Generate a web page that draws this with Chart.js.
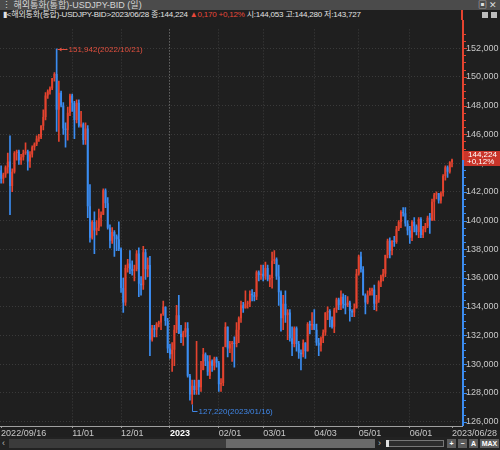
<!DOCTYPE html>
<html>
<head>
<meta charset="utf-8">
<script src="https://cdn.jsdelivr.net/npm/chart.js@4.4.0/dist/chart.umd.min.js"></script>
<style>
  body { margin: 0; background: #1f1f1f; width: 500px; height: 450px; overflow: hidden;
         font-family: 'Liberation Sans Narrow', 'Liberation Sans', 'Noto Sans CJK KR', sans-serif; }
  #title { position: relative; height: 10px; background: #4b4b4b; color: #d6d6d6; font-size: 9px; line-height: 10px; padding-left: 2px; white-space: nowrap; }
  #info { position: relative; height: 10px; color: #e2e2e2; font-size: 8px; line-height: 10px; padding-left: 3px; white-space: nowrap; letter-spacing: -0.2px; }
  #info .up { color: #e8483a; }
  #wrap { width: 500px; height: 417px; }
  #wrap canvas { display: block; }
  #bottom { position: relative; height: 13px; background: #222222; color: #bbb; font-size: 9px; }
  #bottom div { position: absolute; }
  .btn { top: 2px; height: 9px; background: #5c5c5c; color: #fff; font-size: 7px; font-weight: bold; line-height: 9px; text-align: center; }
</style>
</head>
<body>
<div id="title">⋮ 해외통화(통합)-USDJPY-BID (일)
  <span style="position:absolute;left:478px;top:0;color:#ddd">▣</span>
  <span style="position:absolute;left:489px;top:0;color:#ddd">✕</span>
</div>
<div id="info">▮&lt;해외통화(통합)-USDJPY-BID&gt;2023/06/28 종:144,224 <span class="up">▲0,170 +0,12%</span> 시:144,053 고:144,280 저:143,727
  <span style="position:absolute;left:461px;top:0;width:2px;height:10px;background:#e4432f"></span>
  <span style="position:absolute;left:482px;top:2px;width:6px;height:6px;background:#bdbdbd"></span>
  <span style="position:absolute;left:491px;top:2px;width:6px;height:6px;background:#bdbdbd"></span>
</div>
<div id="wrap"><canvas id="chart" width="500" height="417"></canvas></div>
<div id="bottom">
  <div style="left:2px;top:0;line-height:13px">‹</div>
  <div style="left:9px;top:2px;width:366px;height:9px;background:#3b3b3b"></div>
  <div style="left:226px;top:2px;width:149px;height:9px;background:#6a6a6a"></div>
  <div style="left:378px;top:0;line-height:13px">›</div>
  <div style="left:386px;top:3px;width:56px;height:5px;border:1px solid #777;background:#2c2c2c"></div>
  <div style="left:386px;top:3px;width:3px;height:7px;background:#e0e0e0"></div>
  <div class="btn" style="left:447px;width:9px">+</div>
  <div class="btn" style="left:458px;width:9px">−</div>
  <div class="btn" style="left:469px;width:9px">A</div>
  <div class="btn" style="left:480px;width:19px">MAX</div>
</div>
<script>
// daily USD/JPY candles, 2022/09/16 .. 2023/06/28 (one row per month)
const opens = [
  143.5,142.9,143.2,143.7,144.1,142.4,143.4,144.7,144.8,144.2,144.4,
  144.7,144.8,144.1,144.6,145.1,145.3,145.7,145.8,146.6,147.2,148.7,149.0,149.2,149.9,150.2,147.7,148.9,148.0,146.4,146.3,147.5,
  148.7,148.2,147.0,148.2,146.6,146.7,145.6,146.4,141.0,138.8,139.9,139.3,139.5,140.2,140.4,142.1,141.2,139.5,138.6,139.2,138.9,138.7,
  138.0,135.3,134.3,136.7,137.0,136.6,136.5,136.6,137.7,135.6,135.5,137.8,136.6,136.9,131.7,132.5,132.4,132.8,132.9,133.5,134.0,133.0,
  131.1,130.7,131.0,132.4,133.4,132.1,131.9,132.2,132.5,129.2,127.9,128.5,128.2,128.9,128.4,129.6,130.7,130.2,129.2,130.2,129.9,130.4,
  130.1,128.6,128.7,131.2,132.6,131.1,131.4,131.5,131.4,132.4,133.2,134.1,133.9,134.2,134.3,134.9,134.8,134.7,136.4,136.2,
  136.3,136.1,136.7,135.9,136.0,137.2,137.3,136.1,135.0,133.2,134.2,133.4,133.6,131.8,131.4,132.5,131.4,130.8,130.7,131.5,130.9,132.8,132.7,
  132.8,132.4,131.5,131.3,131.8,132.2,133.6,133.7,133.1,132.6,133.8,134.5,134.1,134.7,134.2,134.1,134.3,133.7,133.6,133.9,
  136.3,137.5,136.6,134.8,134.3,134.8,135.1,135.2,134.2,134.5,135.7,136.1,136.3,137.6,138.6,137.9,138.6,138.5,139.4,139.9,140.6,140.5,139.8,
  139.3,138.8,139.9,139.6,139.2,140.1,139.0,139.4,139.6,140.2,140.0,141.3,141.8,141.9,141.4,141.9,143.1,143.7,143.4,144.053
];
const highs = [
  143.8,143.3,143.8,144.7,145.9,143.6,144.8,144.9,144.9,144.6,144.9,
  145.4,144.9,144.8,145.2,145.4,145.9,146.0,146.6,147.7,148.9,149.1,149.3,149.9,150.3,151.942,149.7,149.0,148.2,146.8,147.9,148.8,
  148.8,148.3,148.4,148.4,147.6,146.8,146.8,146.6,142.5,140.0,140.6,140.0,140.8,140.6,142.2,142.2,141.6,139.7,139.5,139.3,139.0,139.9,
  138.1,136.0,136.9,137.3,137.9,137.2,136.9,137.9,138.1,136.1,138.2,138.0,137.4,137.5,132.7,132.7,132.9,133.0,133.5,134.4,134.0,133.2,
  131.4,131.5,132.7,134.1,134.8,132.7,132.3,132.9,132.9,129.3,128.9,128.9,131.6,128.9,130.2,131.1,130.8,130.6,130.6,130.3,130.5,130.5,
  130.2,129.0,131.2,132.9,132.6,131.6,131.6,131.9,132.9,133.3,134.4,134.3,135.1,134.4,135.1,135.2,135.0,136.5,136.5,136.9,
  136.9,137.1,136.9,136.2,137.8,137.9,137.4,136.9,135.1,134.8,135.1,133.8,133.8,132.6,132.6,132.6,131.6,131.0,131.7,131.5,132.9,133.0,133.6,
  133.8,132.8,131.8,131.9,132.4,133.6,134.0,133.8,133.3,133.9,134.6,134.6,135.1,134.9,134.8,134.7,134.4,133.8,134.2,136.6,
  137.6,137.8,136.8,134.9,135.1,135.3,135.3,135.5,134.8,135.8,136.2,136.6,137.6,138.7,138.8,138.6,138.9,139.6,140.0,140.7,140.9,140.9,140.0,
  139.6,140.0,140.2,139.7,140.2,140.2,139.6,139.8,140.3,140.5,141.5,141.9,142.0,141.9,142.0,143.2,143.8,143.8,144.1,144.28
];
const lows = [
  142.6,142.6,143.0,143.3,140.4,142.0,143.3,144.2,143.9,143.9,144.2,
  144.6,143.5,143.7,144.4,144.9,145.2,145.5,145.7,146.3,147.0,148.5,148.8,149.1,149.7,146.2,145.5,147.9,146.0,145.1,145.6,147.3,
  147.6,145.7,146.8,146.5,146.5,145.3,145.3,140.2,138.5,138.7,137.7,139.0,139.3,139.6,140.4,140.9,139.4,138.1,138.4,137.5,137.9,137.9,
  135.0,133.6,134.1,136.4,136.3,136.2,135.8,136.5,134.7,134.8,135.2,135.9,136.1,130.6,131.6,131.9,131.9,132.6,132.4,133.4,132.7,130.8,
  130.4,129.5,129.9,132.2,132.2,131.5,131.3,131.9,129.1,127.5,127.22,127.9,127.9,127.9,128.1,129.6,129.9,129.5,129.0,129.5,129.6,129.8,
  128.1,128.1,128.5,131.2,130.5,130.8,130.2,129.8,131.2,131.5,132.9,133.6,133.9,133.9,134.0,134.4,134.4,134.5,135.8,135.9,
  135.8,135.9,135.8,135.4,135.3,137.0,135.9,134.1,132.3,132.4,132.9,131.7,131.6,130.6,131.2,130.9,130.4,129.6,130.5,130.4,130.9,132.1,132.4,
  132.4,131.3,130.6,130.9,131.5,132.0,133.1,132.6,132.5,132.2,133.6,133.8,133.8,133.9,133.5,134.0,133.0,133.3,133.3,133.9,
  136.2,136.4,134.8,133.5,134.2,134.8,134.8,133.8,133.7,134.3,135.4,135.8,136.1,137.4,137.4,137.6,138.2,138.4,139.3,139.5,140.3,139.6,139.0,
  138.4,138.6,139.2,139.0,138.8,138.8,138.8,139.2,139.5,139.1,140.0,140.0,141.5,141.2,141.2,141.7,142.8,143.0,143.3,143.727
];
const closes = [
  142.9,143.2,143.7,144.1,142.4,143.4,144.7,144.8,144.2,144.4,144.7,
  144.8,144.1,144.6,145.1,145.3,145.7,145.8,146.6,147.2,148.7,149.0,149.2,149.9,150.2,147.7,148.9,148.0,146.4,146.3,147.5,148.7,
  148.2,147.0,148.2,146.6,146.7,145.6,146.4,141.0,138.8,139.9,139.3,139.5,140.2,140.4,142.1,141.2,139.5,138.6,139.2,138.9,138.7,138.0,
  135.3,134.3,136.7,137.0,136.6,136.5,136.6,137.7,135.6,135.5,137.8,136.6,136.9,131.7,132.5,132.4,132.8,132.9,133.5,134.0,133.0,131.1,
  130.7,131.0,132.4,133.4,132.1,131.9,132.2,132.5,129.2,127.9,128.5,128.2,128.9,128.4,129.6,130.7,130.2,129.2,130.2,129.9,130.4,130.1,
  128.6,128.7,131.2,132.6,131.1,131.4,131.5,131.4,132.4,133.2,134.1,133.9,134.2,134.3,134.9,134.8,134.7,136.4,136.2,136.3,
  136.1,136.7,135.9,136.0,137.2,137.3,136.1,135.0,133.2,134.2,133.4,133.6,131.8,131.4,132.5,131.4,130.8,130.7,131.5,130.9,132.8,132.7,132.8,
  132.4,131.5,131.3,131.8,132.2,133.6,133.7,133.1,132.6,133.8,134.5,134.1,134.7,134.2,134.1,134.3,133.7,133.6,133.9,136.3,
  137.5,136.6,134.8,134.3,134.8,135.1,135.2,134.2,134.5,135.7,136.1,136.3,137.6,138.6,137.9,138.6,138.5,139.4,139.9,140.6,140.5,139.8,139.3,
  138.8,139.9,139.6,139.2,140.1,139.0,139.4,139.6,140.2,140.0,141.3,141.8,141.9,141.4,141.9,143.1,143.7,143.4,144.05,144.224
];

// x axis: candle index of each labelled date
const xTickIdx = [0, 32, 54, 76, 98, 118, 141, 161, 184, 203];
const xTickLabels = ['2022/09/16', '11/01', '12/01', '2023', '02/01', '03/01', '04/03', '05/01', '06/01', '2023/06/28'];
const yTicks = [126, 128, 130, 132, 134, 136, 138, 140, 142, 144, 146, 148, 150, 152];

const hiDate = '2022/10/21';
const loDate = '2023/01/16';
const lastChange = '+0,12%';

const UP = '#e4432f';
const DOWN = '#3b8cf0';
const FONT = "'Liberation Sans Narrow', 'Liberation Sans', sans-serif";

const fmt = v => v.toFixed(3).replace('.', ',');
const colors = closes.map((c, i) => c >= opens[i] ? UP : DOWN);

Chart.defaults.font.family = FONT;
Chart.defaults.font.size = 9;

// axis line, price box and the high / low notes
const overlay = {
    id: 'overlay',
    afterDraw(chart) {
        const { ctx, chartArea: a, scales: { x, y } } = chart;
        const last = closes[closes.length - 1];
        const py = Math.round(y.getPixelForValue(last));
        ctx.save();

        ctx.lineWidth = 2;
        ctx.strokeStyle = UP;
        ctx.beginPath(); ctx.moveTo(a.right + 1, 0); ctx.lineTo(a.right + 1, py); ctx.stroke();
        ctx.strokeStyle = DOWN;
        ctx.beginPath(); ctx.moveTo(a.right + 1, py); ctx.lineTo(a.right + 1, a.bottom); ctx.stroke();

        ctx.lineWidth = 1;
        for (let v = 126; v <= 153; v += 0.5) {
            const ty = Math.round(y.getPixelForValue(v)) + 0.5;
            ctx.strokeStyle = ty < py ? UP : DOWN;
            ctx.beginPath(); ctx.moveTo(a.right + 2, ty); ctx.lineTo(a.right + (v % 2 === 0 ? 5 : 4), ty); ctx.stroke();
        }

        ctx.fillStyle = '#c9352a';
        ctx.fillRect(a.right + 2, py - 9, 500 - a.right - 2, 15);
        ctx.fillStyle = '#ffffff';
        ctx.font = '8px ' + FONT;
        ctx.textBaseline = 'middle';
        ctx.textAlign = 'left';
        ctx.fillText(fmt(last), a.right + 6, py - 5);
        ctx.fillText(lastChange, a.right + 5, py + 2);

        // arrow = true: "←" pointing at the candle, otherwise an "└" connector
        const note = (idx, val, date, color, dy, arrow) => {
            const cx = Math.round(x.getPixelForValue(idx)) + 0.5;
            const cy = Math.round(y.getPixelForValue(val)) + 0.5;
            const ty = cy + dy;
            ctx.strokeStyle = color;
            ctx.fillStyle = color;
            ctx.beginPath();
            ctx.moveTo(cx, cy); ctx.lineTo(cx, ty);
            ctx.moveTo(cx, ty); ctx.lineTo(cx + (arrow ? 10 : 5), ty);
            ctx.stroke();
            if (arrow) {
                ctx.beginPath();
                ctx.moveTo(cx + 1, ty); ctx.lineTo(cx + 4, ty - 2); ctx.lineTo(cx + 4, ty + 2); ctx.closePath();
                ctx.fill();
            }
            ctx.fillText(fmt(val) + '(' + date + ')', cx + (arrow ? 11 : 6), ty);
        };
        const hi = highs.indexOf(Math.max(...highs));
        const lo = lows.indexOf(Math.min(...lows));
        note(hi, highs[hi], hiDate, '#e2503f', 0, true);
        note(lo, lows[lo], loDate, '#3f86e6', 7, false);
        ctx.restore();
    }
};

new Chart(document.getElementById('chart'), {
    type: 'bar',
    data: {
        datasets: [
            {
                data: opens.map((o, i) => ({ x: i, y: [o, closes[i]] })),
                backgroundColor: colors,
                barPercentage: 0.85,
                categoryPercentage: 1,
                grouped: false,
                minBarLength: 1,
                borderWidth: 0
            },
            {
                data: lows.map((l, i) => ({ x: i, y: [l, highs[i]] })),
                backgroundColor: colors,
                barThickness: 1,
                grouped: false,
                borderWidth: 0
            }
        ]
    },
    options: {
        responsive: false,
        animation: false,
        devicePixelRatio: 1,
        layout: { padding: 0 },
        plugins: { legend: { display: false }, tooltip: { enabled: false } },
        scales: {
            x: {
                type: 'linear',
                min: -0.5,
                max: 207.5,
                bounds: 'data',
                offset: false,
                afterBuildTicks: s => { s.ticks = xTickIdx.map(v => ({ value: v })); },
                afterFit: s => { s.height = 11; },
                ticks: {
                    autoSkip: false,
                    maxRotation: 0,
                    align: 'start',
                    padding: 0,
                    callback: v => xTickLabels[xTickIdx.indexOf(v)],
                    color: c => c.index === 3 ? '#ffffff' : '#c8c8c8',
                    font: c => ({ size: 9, weight: c.index === 3 ? 'bold' : 'normal' })
                },
                grid: {
                    offset: false,
                    color: c => {
                        if (!c.tick || c.index === 0 || c.index === xTickIdx.length - 1) return 'rgba(0,0,0,0)';
                        return c.index === 3 ? '#8a8a8a' : '#3d3d3d';
                    },
                    tickColor: '#9a9a9a',
                    tickLength: 2
                },
                border: { color: '#a0a0a0', width: 1, dash: [1, 2] }
            },
            y: {
                position: 'right',
                min: 125.7,
                max: 153.3,
                bounds: 'data',
                afterBuildTicks: s => { s.ticks = yTicks.map(v => ({ value: v })); },
                afterFit: s => { s.width = 38; },
                ticks: {
                    padding: 4,
                    color: '#c8c8c8',
                    callback: v => fmt(v)
                },
                grid: { color: '#3a3a3a', drawTicks: false },
                border: { display: false, dash: [1, 2] }
            }
        }
    },
    plugins: [overlay]
});
</script>
</body>
</html>
